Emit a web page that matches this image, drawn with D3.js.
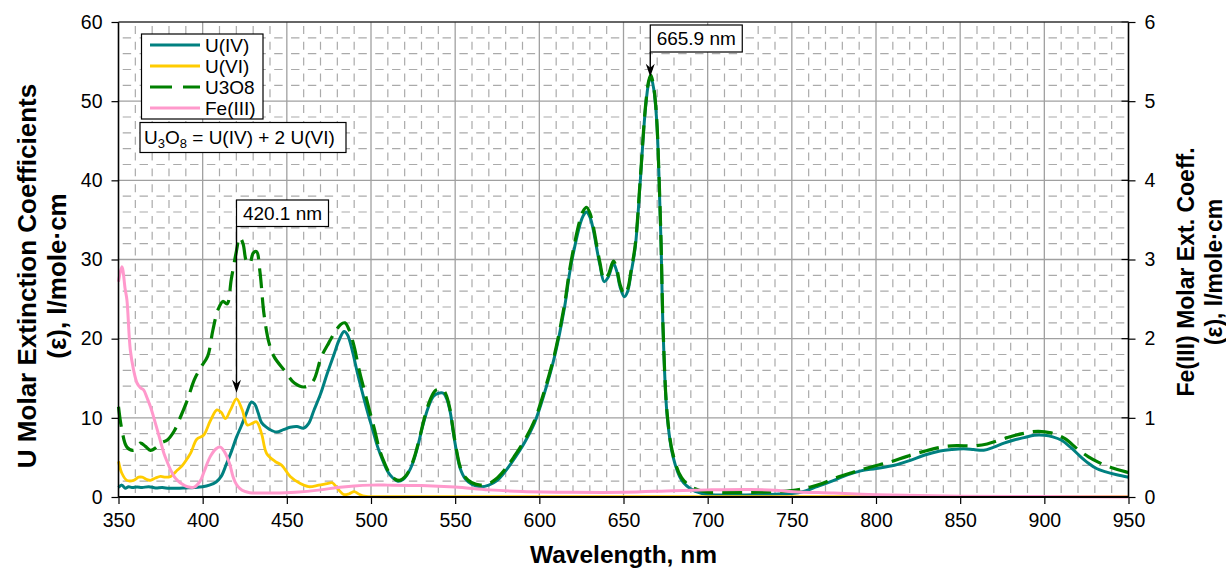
<!DOCTYPE html>
<html>
<head>
<meta charset="utf-8">
<script src="https://cdn.jsdelivr.net/npm/d3@7"></script>
<style>
  html, body { margin: 0; padding: 0; background: #fff; }
  svg { display: block; font-family: "Liberation Sans", Arial, sans-serif; }
</style>
</head>
<body>
<svg id="chart" width="1226" height="571"></svg>
<script>
// Absorption spectra: wavelength (nm) vs molar extinction coefficient
const uIV = [
  [350,1.2],[352,1.5],[354,1.1],[356,1.3],[358,1.2],[361,1.25],[364,1.2],[368,1.3],[372,1.15],[376,1.2],
  [380,1.1],[385,1.1],[390,1.15],[395,1.2],[400,1.3],[404,1.5],[408,1.9],[411,2.6],[414,4.1],[417,5.7],
  [420,7.5],[423,9.0],[426,10.6],[429,12.0],[431,11.7],[433,10.6],[435,9.4],[438,8.8],[441,8.4],[444,8.2],
  [448,8.5],[452,8.8],[456,8.9],[460,8.7],[463,9.3],[466,10.9],[470,13.0],[474,15.6],[478,18.0],[481,19.8],
  [484,20.9],[486,20.5],[489,18.4],[492,15.6],[495,13.1],[498,10.7],[501,8.5],[504,6.3],[507,4.6],[510,3.2],
  [513,2.4],[516,2.0],[519,2.2],[522,3.0],[525,4.4],[528,6.6],[531,9.2],[534,11.3],[537,12.7],[540,13.1],
  [543,13.1],[545,12.4],[547,10.8],[549,8.0],[551,5.5],[553,3.6],[556,2.3],[560,1.6],[565,1.3],[570,1.5],
  [575,2.1],[580,3.3],[585,4.8],[591,6.8],[597,9.3],[603,13.1],[609,17.7],[615,24.0],[618,28.3],[621,31.6],
  [624,34.3],[626,35.5],[628,36.0],[630,35.4],[632,33.8],[634,31.5],[636,29.3],[638.5,27.2],[641,27.8],[644,29.5],
  [646,28.5],[648,26.5],[650.5,25.3],[652.5,26.0],[654.5,28.3],[657,31.6],[660,40.0],[663,49.0],[665,52.4],[666.2,53.1],
  [668,51.5],[669.7,47.6],[671,41.0],[672.3,32.0],[673.6,20.5],[676,10.1],[679.4,5.1],[684.6,2.1],[691,0.9],[699,0.35],
  [710,0.25],[720,0.25],[730,0.3],[740,0.35],[750,0.45],[757,0.7],[765,1.3],[775,2.1],[783,2.8],[791,3.3],
  [800,3.6],[811,4.0],[820,4.6],[829,5.3],[838,5.8],[845,6.0],[852,6.1],[858,6.0],[864,5.9],[870,6.3],
  [876,6.8],[882,7.2],[888,7.5],[894,7.8],[900,7.8],[905,7.6],[910,7.2],[916,6.2],[921,5.2],[926,4.3],
  [931,3.6],[936,3.2],[943,2.8],[950,2.5]
];

const uVI = [
  [350,4.5],[352,3.0],[355,2.1],[359,2.1],[362,2.5],[364,2.5],[367,2.2],[369,2.1],[372,2.4],[375,2.6],
  [378,2.5],[381,2.6],[385,3.4],[388,4.0],[391,4.9],[393,5.6],[396.5,7.3],[400.5,7.8],[404.5,9.6],[408.5,11.0],
  [411,10.7],[413.5,9.9],[416.5,11.0],[420.1,12.4],[423.5,11.0],[426.5,9.1],[429.5,9.3],[432,9.5],[435,8.0],[438,5.5],
  [443,4.5],[447,4.0],[452,2.6],[458,1.7],[463,1.3],[469,1.5],[474,1.7],[477,1.8],[480,1.1],[484,0.3],
  [487,0.4],[490,0.67],[493,0.35],[496,0.1],[500,0.05],[550,0.05],[600,0.05],[700,0.05],[800,0.05],[950,0.05]
];

const u3o8 = [
  [350,11.4],[352,8.5],[355,6.3],[359,5.9],[363,6.8],[366,6.4],[369,5.9],[372,6.2],[375,6.8],[379,7.2],
  [383,8.3],[387,10.2],[391,12.3],[395,14.8],[399,16.4],[403,17.8],[406,21.0],[409,23.6],[412,24.7],[414.5,24.4],
  [417,27.5],[420,31.0],[422,32.8],[424,32.0],[426,29.8],[428,29.5],[430,30.8],[432,31.0],[434,28.5],[436.5,23.0],
  [439.5,19.4],[442.5,17.7],[448.5,16.0],[454.5,14.4],[460.5,13.9],[465.5,14.6],[470.5,17.7],[475,19.5],[478.5,20.8],[482,21.8],
  [484.5,22.0],[487,21.1],[490,19.0],[493,16.0],[496,13.5],[499,11.0],[502,8.6],[505,6.0],[508,4.3],[511,3.0],
  [514,2.3],[517,2.1],[520,2.5],[523,3.5],[526,5.2],[529,7.6],[532,10.2],[535,12.2],[538,13.4],[541,13.6],
  [543,13.5],[545,12.7],[547,11.0],[549,8.2],[551,5.7],[553,3.8],[556,2.5],[560,1.8],[565,1.5],[570,1.7],
  [575,2.4],[580,3.6],[585,5.1],[591,7.1],[597,9.6],[603,13.4],[609,18.0],[615,24.4],[618,28.7],[621,32.1],
  [624,34.9],[626,36.1],[628,36.6],[630,35.9],[632,34.2],[634,31.9],[636,29.6],[638.5,27.5],[641,28.1],[644,29.8],
  [646,28.8],[648,26.8],[650.5,25.6],[652.5,26.3],[654.5,28.6],[657,31.9],[660,40.3],[663,49.2],[665,52.6],[666.2,53.3],
  [668,51.7],[669.7,47.8],[671,41.2],[672.3,32.3],[673.6,20.8],[676,10.4],[679.4,5.4],[684.6,2.4],[691,1.2],[699,0.65],
  [710,0.55],[720,0.55],[730,0.6],[740,0.65],[750,0.8],[760,1.2],[768,1.7],[776,2.4],[786,3.1],[797,3.8],
  [808,4.4],[818,5.1],[829,5.8],[840,6.35],[848,6.5],[857,6.45],[866,6.7],[878,7.5],[887,8.0],[896,8.3],
  [904,8.1],[912,7.4],[920,6.0],[926,5.1],[932,4.4],[940,3.7],[948,3.2],[950,3.1]
];

// Fe(III) is read against the secondary (right) axis
const fe3 = [
  [350,2.72],[352,2.91],[354,2.62],[355,2.49],[357,1.86],[359,1.6],[361,1.44],[363,1.38],[365,1.35],[367,1.25],
  [369,1.14],[371,1.0],[373,0.85],[375,0.70],[377,0.55],[379,0.44],[381,0.34],[383,0.26],[385,0.21],[388,0.16],
  [391,0.13],[395,0.125],[398.5,0.2],[401,0.33],[404.5,0.51],[408,0.61],[410.5,0.63],[413,0.57],[416,0.42],[418,0.26],
  [420,0.16],[422,0.11],[425,0.07],[428,0.055],[435,0.05],[442,0.05],[455,0.06],[470,0.09],[480,0.12],[490,0.14],
  [500,0.15],[510,0.15],[530,0.145],[550,0.125],[570,0.09],[590,0.07],[620,0.06],[650,0.06],[680,0.08],[700,0.09],
  [725,0.095],[740,0.085],[751,0.067],[775,0.05],[800,0.03],[825,0.02],[851,0.01],[900,0.005],[950,0.0]
];

const xTicks = [350,400,450,500,550,600,650,700,750,800,850,900,950];
const yLeftTicks = [0,10,20,30,40,50,60];
const yRightTicks = [0,1,2,3,4,5,6];
const seriesNames = ["U(IV)", "U(VI)", "U3O8", "Fe(III)"];
const seriesColors = ["#008080", "#FFCC00", "#008000", "#FF99CC"];
const peakLabels = [
  { text: "665.9 nm", wl: 665.9, value: 53.1 },
  { text: "420.1 nm", wl: 420.1, value: 12.4 }
];

const svg = d3.select("#chart");
const L = 118.5, R = 1128.5, T = 22, B = 497;

const x = d3.scaleLinear().domain([350, 950]).range([L, R]);
const yL = d3.scaleLinear().domain([0, 60]).range([B, T]);
const yR = d3.scaleLinear().domain([0, 6]).range([B, T]);

// ---- grid ----
const grid = svg.append("g");
const minorX = d3.range(350, 951, 10).filter(v => v % 50 !== 0);
const minorY = d3.range(0, 61, 2).filter(v => v % 10 !== 0);
const stepX = x(360) - x(350), stepY = yL(0) - yL(2);

grid.selectAll(".mx").data(minorX).enter().append("line")
  .attr("x1", d => x(d)).attr("x2", d => x(d)).attr("y1", T).attr("y2", B)
  .attr("stroke", "#aaaaaa").attr("stroke-width", 1.2)
  .attr("stroke-dasharray", `${stepY * 0.5},${stepY * 0.5}`)
  .attr("stroke-dashoffset", -stepY * 0.25);
grid.selectAll(".my").data(minorY).enter().append("line")
  .attr("x1", L).attr("x2", R).attr("y1", d => yL(d)).attr("y2", d => yL(d))
  .attr("stroke", "#aaaaaa").attr("stroke-width", 1.2)
  .attr("stroke-dasharray", `${stepX * 0.5},${stepX * 0.5}`)
  .attr("stroke-dashoffset", -stepX * 0.25);
grid.selectAll(".Mx").data(xTicks.slice(1, -1)).enter().append("line")
  .attr("x1", d => x(d)).attr("x2", d => x(d)).attr("y1", T).attr("y2", B)
  .attr("stroke", "#a0a0a0").attr("stroke-width", 1.3);
grid.selectAll(".My").data(yLeftTicks.slice(1, -1)).enter().append("line")
  .attr("x1", L).attr("x2", R).attr("y1", d => yL(d)).attr("y2", d => yL(d))
  .attr("stroke", "#a0a0a0").attr("stroke-width", 1.3);

// ---- series ----
const lineL = d3.line().x(d => x(d[0])).y(d => yL(d[1])).curve(d3.curveCatmullRom.alpha(0.5));
const lineR = d3.line().x(d => x(d[0])).y(d => yR(d[1])).curve(d3.curveCatmullRom.alpha(0.5));

svg.append("path").datum(uIV).attr("d", lineL).attr("fill", "none")
  .attr("stroke", seriesColors[0]).attr("stroke-width", 3);
svg.append("path").datum(uVI).attr("d", lineL).attr("fill", "none")
  .attr("stroke", seriesColors[1]).attr("stroke-width", 2.8);
svg.append("path").datum(u3o8).attr("d", lineL).attr("fill", "none")
  .attr("stroke", seriesColors[2]).attr("stroke-width", 3.2)
  .attr("stroke-dasharray", "20,9");
svg.append("path").datum(fe3).attr("d", lineR).attr("fill", "none")
  .attr("stroke", seriesColors[3]).attr("stroke-width", 3);

// ---- axes ----
const axisFont = 19.5;
const ax = svg.append("g");
ax.append("g").attr("transform", `translate(0,${B})`)
  .call(d3.axisBottom(x).tickValues(xTicks).tickSize(7).tickPadding(9).tickFormat(d3.format("d")));
ax.append("g").attr("transform", `translate(${L},0)`)
  .call(d3.axisLeft(yL).tickValues(yLeftTicks).tickSize(7).tickPadding(9).tickFormat(d3.format("d")));
ax.append("g").attr("transform", `translate(${R},0)`)
  .call(d3.axisRight(yR).tickValues(yRightTicks).tickSize(7).tickPadding(9).tickFormat(d3.format("d")));
// right-axis ticks cross the axis line
ax.append("g").selectAll("line").data(yRightTicks).enter().append("line")
  .attr("x1", R - 7).attr("x2", R).attr("y1", d => yR(d)).attr("y2", d => yR(d))
  .attr("stroke", "#000").attr("stroke-width", 1.2);
ax.selectAll(".domain").remove();
ax.selectAll(".tick line").attr("stroke", "#000").attr("stroke-width", 1.2);
ax.selectAll(".tick text").attr("font-size", axisFont).attr("fill", "#000")
  .attr("font-family", "'Liberation Sans', Arial, sans-serif");

// frame
svg.append("line").attr("x1", L).attr("x2", L).attr("y1", T).attr("y2", B).attr("stroke", "#000").attr("stroke-width", 1.6);
svg.append("line").attr("x1", R).attr("x2", R).attr("y1", T).attr("y2", B).attr("stroke", "#000").attr("stroke-width", 1.6);
svg.append("line").attr("x1", L).attr("x2", R).attr("y1", B).attr("y2", B).attr("stroke", "#000").attr("stroke-width", 2);
svg.append("line").attr("x1", L).attr("x2", R).attr("y1", T).attr("y2", T).attr("stroke", "#333").attr("stroke-width", 1.4);

// ---- axis titles ----
svg.append("text").attr("x", (L + R) / 2).attr("y", 563).attr("text-anchor", "middle")
  .attr("font-size", 24.5).attr("font-weight", "bold").text("Wavelength, nm");

const leftTitle = svg.append("text").attr("transform", "translate(27,276) rotate(-90)")
  .attr("text-anchor", "middle").attr("font-size", 26).attr("font-weight", "bold");
leftTitle.append("tspan").attr("x", 0).attr("y", 9).text("U Molar Extinction Coefficients");
leftTitle.append("tspan").attr("x", 0).attr("y", 39).text("(ε), l/mole·cm");

const rightTitle = svg.append("text").attr("transform", "translate(1186,272) rotate(-90)")
  .attr("text-anchor", "middle").attr("font-size", 23).attr("font-weight", "bold");
rightTitle.append("tspan").attr("x", 0).attr("y", 8).text("Fe(III) Molar Ext. Coeff.");
rightTitle.append("tspan").attr("x", 0).attr("y", 36).text("(ε), l/mole·cm");

// ---- legend ----
const lg = svg.append("g");
lg.append("rect").attr("x", 141.5).attr("y", 34).attr("width", 121.5).attr("height", 85)
  .attr("fill", "#fff").attr("stroke", "#000").attr("stroke-width", 1.2);
seriesNames.forEach((name, i) => {
  const yy = 45 + i * 21;
  const ln = lg.append("line").attr("x1", 150).attr("x2", 200).attr("y1", yy).attr("y2", yy)
    .attr("stroke", seriesColors[i]).attr("stroke-width", 3);
  if (name === "U3O8") ln.attr("stroke-dasharray", "22,11").attr("stroke-width", 3.2);
  lg.append("text").attr("x", 205).attr("y", yy).attr("dy", "0.36em")
    .attr("font-size", 19).text(name);
});

// formula box
const fb = svg.append("g");
fb.append("rect").attr("x", 140).attr("y", 122.5).attr("width", 206).attr("height", 30)
  .attr("fill", "#fff").attr("stroke", "#000").attr("stroke-width", 1.2);
const ft = fb.append("text").attr("x", 144).attr("y", 144).attr("font-size", 19);
ft.append("tspan").text("U");
ft.append("tspan").attr("font-size", 13).attr("dy", 4).text("3");
ft.append("tspan").attr("dy", -4).text("O");
ft.append("tspan").attr("font-size", 13).attr("dy", 4).text("8");
ft.append("tspan").attr("dy", -4).text(" = U(IV) + 2 U(VI)");

// ---- peak annotations ----
const boxPos = { "665.9 nm": { top: 25, h: 27, w: 92 }, "420.1 nm": { top: 200, h: 26.5, w: 92 } };
peakLabels.forEach(p => {
  const px = x(p.wl);
  const b = boxPos[p.text];
  const tipY = yL(p.value) - (p.wl < 500 ? 6 : 0);
  const g = svg.append("g");
  g.append("line").attr("x1", px).attr("x2", px).attr("y1", b.top + b.h).attr("y2", tipY - 4)
    .attr("stroke", "#000").attr("stroke-width", 1.4);
  g.append("path")
    .attr("d", `M${px},${tipY} L${px - 4.5},${tipY - 13} L${px},${tipY - 9} L${px + 4.5},${tipY - 13} Z`)
    .attr("fill", "#000");
  g.append("rect").attr("x", px).attr("y", b.top).attr("width", b.w).attr("height", b.h)
    .attr("fill", "#fff").attr("stroke", "#000").attr("stroke-width", 1.2);
  g.append("text").attr("x", px + b.w / 2).attr("y", b.top + b.h / 2).attr("dy", "0.36em")
    .attr("text-anchor", "middle").attr("font-size", 19).text(p.text);
});
</script>
</body>
</html>
